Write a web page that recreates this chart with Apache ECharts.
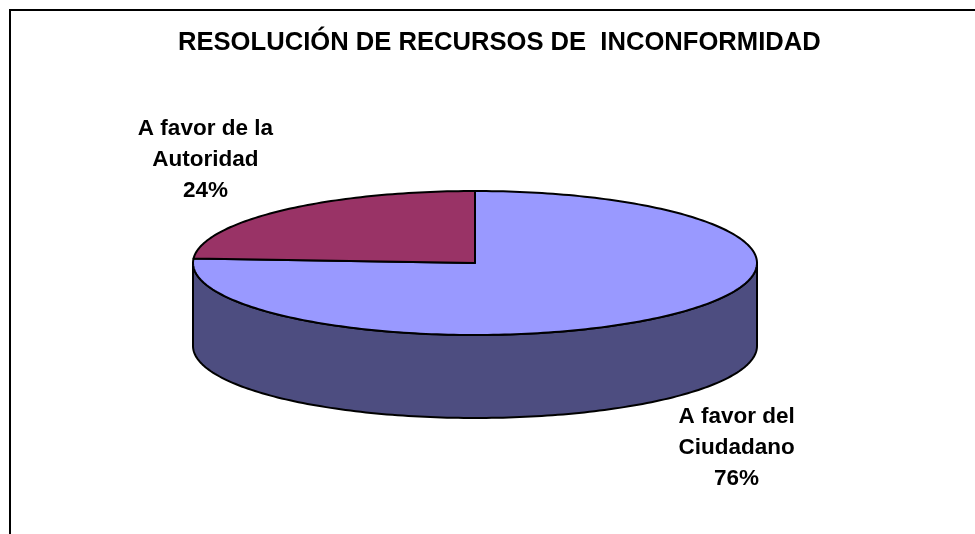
<!DOCTYPE html>
<html>
<head>
<meta charset="utf-8">
<script src="https://cdn.jsdelivr.net/npm/echarts@6/dist/echarts.min.js"></script>
<style>html,body{margin:0;padding:0;background:#fff}#main{width:975px;height:534px}</style>
</head>
<body>
<div id="main"></div>
<script>
var categories = ['A favor del\nCiudadano', 'A favor de la\nAutoridad'];
var values = [76, 24];
var topColors = ['#9999FF', '#993366'];
var sideColors = ['#4D4D80', '#4D1A33'];

var dom = document.getElementById('main');
var myChart = echarts.init(dom);

// tilted pie: top ellipse + front wall
var cx = 475, cy = 263, rx = 282, ry = 72, depth = 83;
var total = values.reduce(function (a, b) { return a + b; }, 0);
var FONT = '"Liberation Sans", Arial, sans-serif';

function pt(t, dy) {
    return [cx + rx * Math.sin(t), cy - ry * Math.cos(t) + (dy || 0)];
}
function arc(a, b, dy) {
    var pts = [], n = Math.max(2, Math.ceil(Math.abs(b - a) / 0.02));
    for (var k = 0; k <= n; k++) pts.push(pt(a + (b - a) * k / n, dy));
    return pts;
}

function renderItem(params, api) {
    var i = params.dataIndex;
    var before = 0;
    for (var j = 0; j < i; j++) before += values[j];
    var t0 = before / total * Math.PI * 2;
    var t1 = (before + api.value(0)) / total * Math.PI * 2;
    var children = [];
    // only the part between 3 and 9 o'clock shows its side
    var a = Math.max(t0, Math.PI / 2), b = Math.min(t1, Math.PI * 1.5);
    if (b > a) {
        children.push({
            type: 'polygon', z2: 1,
            shape: { points: arc(a, b, 0).concat(arc(b, a, depth)) },
            style: { fill: sideColors[i], stroke: '#000', lineWidth: 2, lineJoin: 'round' }
        });
    }
    children.push({
        type: 'polygon', z2: 5,
        shape: { points: [[cx, cy]].concat(arc(t0, t1, 0)) },
        style: { fill: topColors[i], stroke: '#000', lineWidth: 2, lineJoin: 'round' }
    });
    var tm = (t0 + t1) / 2;
    var lx = cx - 4 + (rx + 106) * Math.sin(tm);
    var ly = cy - (ry + 70) * Math.cos(tm) + (Math.cos(tm) < 0 ? depth - 2 : 0);
    children.push({
        type: 'text', z2: 10,
        style: {
            text: categories[i] + '\n' + Math.round(api.value(0) / total * 100) + '%',
            x: lx, y: ly, align: 'center', verticalAlign: 'middle',
            font: 'bold 22.5px ' + FONT, lineHeight: 31, fill: '#000'
        }
    });
    return { type: 'group', children: children };
}

option = {
    animation: false,
    title: {
        text: 'RESOLUCIÓN DE RECURSOS DE  INCONFORMIDAD',
        left: 178,
        top: 30,
        padding: 0,
        textStyle: { fontSize: 25.6, fontWeight: 'bold', color: '#000', fontFamily: FONT }
    },
    graphic: [{
        type: 'polyline',
        shape: { points: [[10, 534], [10, 10], [975, 10]] },
        style: { stroke: '#000', lineWidth: 2, fill: null }
    }],
    series: [{
        type: 'custom',
        coordinateSystem: 'none',
        renderItem: renderItem,
        data: values.map(function (v) { return [v]; })
    }]
};
myChart.setOption(option, true);
</script>
</body>
</html>
